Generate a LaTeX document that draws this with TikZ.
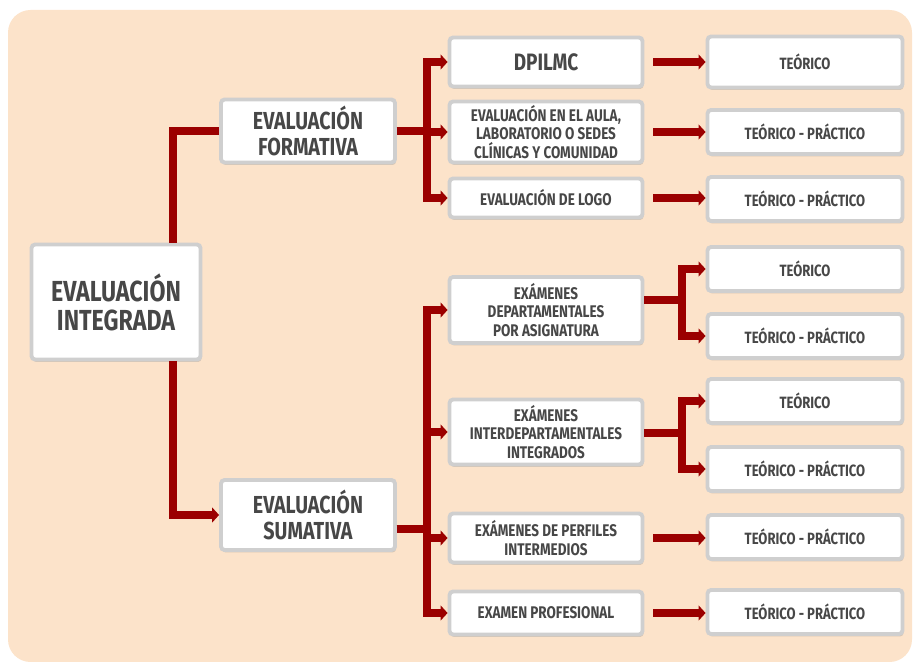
\documentclass[tikz,border=0pt]{standalone}
\usepackage{fontspec}
\setmainfont{Fira Sans}[FakeStretch=0.8]
\usepackage{tikz}
\usetikzlibrary{arrows.meta,shadows}
\definecolor{fondo}{HTML}{FCE3CA}
\definecolor{rojo}{HTML}{9B0000}
\definecolor{gris}{HTML}{CFCFCF}
\definecolor{letra}{HTML}{474747}
\tikzset{
  caja/.style={draw=gris, line width=2.2pt, fill=white, rounded corners=2pt,
    align=center, text=letra, inner sep=1pt,
    font=\bfseries\fontsize{9.6}{10.4}\selectfont,
    drop shadow={shadow xshift=0.6pt, shadow yshift=-1.4pt, opacity=0.3}},
  medio/.style={caja, minimum width=3.86cm},
  final/.style={caja, minimum width=3.9cm, minimum height=0.88cm,
    font=\bfseries\fontsize{9.3}{11}\selectfont},
  linea/.style={draw=rojo, line width=4pt},
  flecha/.style={linea, -{Triangle[length=4pt,width=8.5pt]}},
}

\begin{document}
\begin{tikzpicture}[x=0.02cm,y=-0.02cm]
	\useasboundingbox (0,0) rectangle (913,662);
	\fill[fondo, rounded corners=0.45cm] (8,10) rectangle (912,662);
	% primer nivel
	\node[caja, minimum width=3.38cm, minimum height=2.3cm,
	  font=\bfseries\fontsize{16.5}{16.5}\selectfont] (raiz) at (116,302){EVALUACIÓN\\INTEGRADA};
	\node[caja, minimum width=3.48cm, minimum height=1.26cm,
	  font=\bfseries\fontsize{14}{15.3}\selectfont] (form) at (308,131){EVALUACIÓN\\FORMATIVA};
	\node[caja, minimum width=3.48cm, minimum height=1.4cm,
	  font=\bfseries\fontsize{14}{15.3}\selectfont] (sum) at (308,515){EVALUACIÓN\\SUMATIVA};
	% segundo nivel
	\node[medio, minimum height=0.98cm, font=\bfseries\fontsize{13.5}{15}\selectfont] (m1) at (546,62){DPILMC};
	\node[medio, minimum height=1.22cm] (m2) at (546,132){EVALUACIÓN EN EL AULA,\\LABORATORIO O SEDES\\CLÍNICAS Y COMUNIDAD};
	\node[medio, minimum height=0.78cm] (m3) at (546,198){EVALUACIÓN DE LOGO};
	\node[medio, minimum height=1.32cm] (m4) at (546,310){EXÁMENES\\DEPARTAMENTALES\\POR ASIGNATURA};
	\node[medio, minimum height=1.3cm] (m5) at (546,432){EXÁMENES\\INTERDEPARTAMENTALES\\INTEGRADOS};
	\node[medio, minimum height=0.98cm] (m6) at (546,538){EXÁMENES DE PERFILES\\INTERMEDIOS};
	\node[medio, minimum height=0.86cm] (m7) at (546,613){EXAMEN PROFESIONAL};
	% tercer nivel
	\node[final, minimum height=1.02cm] (r1) at (805,62){TEÓRICO};
	\node[final] (r2) at (805,132){TEÓRICO - PRÁCTICO};
	\node[final] (r3) at (805,199){TEÓRICO - PRÁCTICO};
	\node[final] (r4) at (805,269){TEÓRICO};
	\node[final] (r5) at (805,336){TEÓRICO - PRÁCTICO};
	\node[final] (r6) at (805,401){TEÓRICO};
	\node[final] (r7) at (805,469){TEÓRICO - PRÁCTICO};
	\node[final] (r8) at (805,537){TEÓRICO - PRÁCTICO};
	\node[final] (r9) at (805,612){TEÓRICO - PRÁCTICO};
	% puntos de quiebre
	\coordinate (q1) at (173,131);
	\coordinate (q2) at (173,515);
	\coordinate (q3) at (427,131);
	\coordinate (q4) at (427,529);
	\coordinate (q5) at (682,300);
	\coordinate (q6) at (682,433);
	% conectores
	\draw[linea] (raiz.north -| q1) -- (q1) -- (form.west);
	\draw[flecha] (raiz.south -| q2) -- (q2) -- (sum.west);
	\foreach \m in {m1,m2,m3}
		\draw[flecha] (form.east) -- (q3) |- (\m.west);
	\foreach \m in {m4,m5,m6,m7}
		\draw[flecha] (sum.east |- q4) -- (q4) |- (\m.west);
	\foreach \m/\r in {m1/r1,m2/r2,m3/r3,m6/r8,m7/r9}
		\draw[flecha, shorten <=5pt] (\m.east) -- (\m.east -| \r.west);
	\foreach \r in {r4,r5}
		\draw[flecha] (m4.east |- q5) -- (q5) |- (\r.west);
	\foreach \r in {r6,r7}
		\draw[flecha] (m5.east |- q6) -- (q6) |- (\r.west);
\end{tikzpicture}
\end{document}
